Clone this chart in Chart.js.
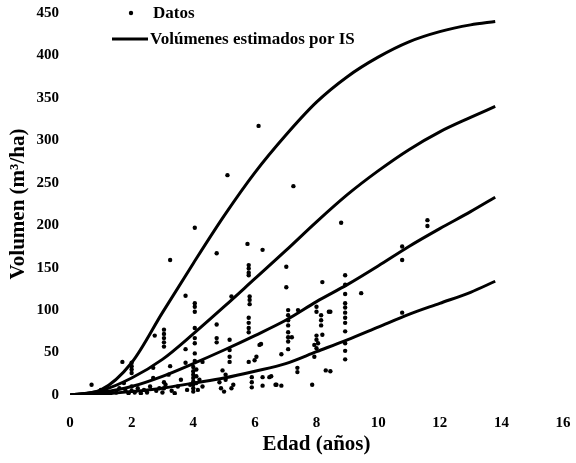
<!DOCTYPE html>
<html>
<head>
<meta charset="utf-8">
<script src="https://cdn.jsdelivr.net/npm/chart.js@4/dist/chart.umd.min.js"></script>
<style>
  html, body { margin: 0; padding: 0; background: #fff; }
  #wrap { width: 576px; height: 463px; }
</style>
</head>
<body>
<div id="wrap"><canvas id="volChart" width="576" height="463"></canvas></div>
<script>
// Observed stand volumes (edad in years, volumen in m3/ha)
const datosEdad = [
  0.7, 0.9, 1.0, 1.1, 1.2, 1.3, 1.5, 1.6, 1.7, 1.75, 1.8, 1.9,
  2.0, 2.0, 2.0, 2.0, 2.0, 2.0, 2.1, 2.2, 2.3, 2.4, 2.5, 2.6, 2.7, 2.7, 2.75, 2.8, 2.9,
  3.0, 3.05, 3.05, 3.05, 3.05, 3.05, 3.05, 3.05, 3.1, 3.2, 3.25, 3.25, 3.3, 3.4, 3.5, 3.6,
  3.75, 3.75, 3.75, 3.8, 3.9,
  4.05, 4.05, 4.05, 4.05, 4.05, 4.05, 4.05, 4.05, 4.05, 4.0, 4.0, 4.0, 4.0, 4.0, 4.0, 4.0, 4.0,
  4.1, 4.1, 4.1, 4.15, 4.2, 4.3, 4.3,
  4.76, 4.76, 4.76, 4.76, 4.85, 4.9, 4.95, 5.0, 5.05, 5.05, 5.11, 5.18, 5.18, 5.18, 5.18,
  5.24, 5.24, 5.3,
  5.76, 5.8, 5.8, 5.8, 5.8, 5.83, 5.83, 5.83, 5.8, 5.8, 5.8, 5.8, 5.8, 5.9, 5.9, 5.9, 5.99,
  6.05, 6.12, 6.15, 6.2, 6.25, 6.25, 6.25, 6.47, 6.53, 6.67, 6.7, 6.86, 6.86,
  7.02, 7.02, 7.08, 7.08, 7.08, 7.08, 7.08, 7.08, 7.08, 7.08, 7.2, 7.25, 7.38, 7.38, 7.4,
  7.86, 7.93, 7.93,
  8.0, 8.0, 8.0, 8.0, 8.0, 8.05, 8.15, 8.15, 8.15, 8.19, 8.19, 8.3, 8.4, 8.45, 8.45,
  8.8, 8.93, 8.93, 8.93, 8.93, 8.93, 8.93, 8.93, 8.93, 8.93, 8.93, 8.93, 8.93, 9.45,
  10.78, 10.78, 10.78, 11.6, 11.6
];
const datosVolumen = [
  12, 3, 6, 2, 4, 1, 3, 8, 39, 14, 5, 2,
  38, 34, 30, 26, 10, 5, 3, 8, 2, 6, 3, 10, 32, 20, 70, 5, 8,
  3, 77, 72, 67, 62, 57, 15, 8, 12, 24, 34, 159, 5, 2, 10, 18,
  117, 54, 38, 6, 12,
  197, 108, 104, 98, 79, 67, 61, 49, 40, 33, 28, 24, 20, 16, 12, 8, 4,
  30, 22, 14, 6, 18, 39, 10,
  167, 83, 67, 62, 15, 8, 29, 4, 24, 18, 259, 65, 53, 45, 39,
  116, 8, 12,
  178, 153, 149, 144, 141, 116, 112, 107, 91, 85, 79, 74, 39, 21, 15, 9, 41,
  45, 317, 59, 60, 171, 21, 11, 21, 22, 12, 12, 48, 11,
  151, 127, 100, 94, 88, 82, 74, 68, 63, 54, 68, 246, 32, 27, 100,
  12, 59, 45,
  104, 98, 70, 65, 55, 61, 94, 88, 82, 133, 71, 29, 98, 98, 28,
  203, 141, 130, 119, 108, 103, 97, 91, 85, 75, 61, 52, 42, 120,
  175, 159, 97, 206, 199
];

// Volumes estimated by the site index (IS) curves
const edadCurva = [0, 1, 2, 3, 4, 5, 6, 7, 8, 9, 10, 11, 12, 13, 13.8];
const curvaIS1 = [0, 6, 38, 97, 155, 211, 262, 306, 345, 375, 398, 416, 428, 436, 440];
const curvaIS2 = [0, 5, 20, 42, 72, 104, 137, 170, 204, 236, 264, 289, 310, 327, 340];
const curvaIS3 = [0, 3, 10, 22, 37, 53, 70, 88, 110, 130, 152, 175, 196, 216, 233];
const curvaIS4 = [0, 1, 4, 8, 14, 20, 28, 37, 51, 65, 80, 95, 108, 121, 134];

const labelDatos = "Datos";
const labelCurvas = "Volúmenes estimados por IS";

const serif = "'Liberation Serif', 'Times New Roman', serif";

const toPoints = (xs, ys) => xs.map((x, i) => ({ x: x, y: ys[i] }));

function curveDataset(values, label) {
  return {
    type: "line",
    label: label,
    data: toPoints(edadCurva, values),
    borderColor: "#000",
    borderWidth: 3,
    pointRadius: 0,
    fill: false,
    cubicInterpolationMode: "monotone",
  };
}

// Legend sits inside the plot area, top-left
const legendInside = {
  id: "legendInside",
  afterDraw(chart) {
    const ctx = chart.ctx;
    const left = chart.chartArea.left;
    const top = chart.chartArea.top;
    ctx.save();
    ctx.fillStyle = "#000";
    ctx.strokeStyle = "#000";
    ctx.font = "bold 17px " + serif;
    ctx.textBaseline = "middle";

    ctx.beginPath();
    ctx.arc(left + 61, top, 2.2, 0, Math.PI * 2);
    ctx.fill();
    ctx.fillText(labelDatos, left + 83, top + 1);

    ctx.lineWidth = 3;
    ctx.beginPath();
    ctx.moveTo(left + 42, top + 26);
    ctx.lineTo(left + 78, top + 26);
    ctx.stroke();
    ctx.fillText(labelCurvas, left + 80, top + 27);
    ctx.restore();
  },
};

const ctx = document.getElementById("volChart").getContext("2d");
const volChart = new Chart(ctx, {
  type: "scatter",
  data: {
    datasets: [
      {
        label: labelDatos,
        data: toPoints(datosEdad, datosVolumen),
        backgroundColor: "#000",
        borderColor: "#000",
        pointRadius: 2.2,
        pointBorderWidth: 0,
      },
      curveDataset(curvaIS1, labelCurvas),
      curveDataset(curvaIS2, labelCurvas),
      curveDataset(curvaIS3, labelCurvas),
      curveDataset(curvaIS4, labelCurvas),
    ],
  },
  options: {
    responsive: false,
    animation: false,
    layout: { padding: { top: 13, right: 13, left: 0, bottom: 0 } },
    plugins: {
      legend: { display: false },
      tooltip: { enabled: false },
    },
    scales: {
      x: {
        type: "linear",
        min: 0,
        max: 16,
        grid: { display: false },
        border: { display: false },
        ticks: {
          stepSize: 2,
          color: "#000",
          padding: 11,
          font: { family: serif, size: 15, weight: "bold" },
        },
        title: {
          display: true,
          text: "Edad (años)",
          color: "#000",
          padding: { top: 0, bottom: 6 },
          font: { family: serif, size: 21, weight: "bold" },
        },
        afterFit: (scale) => {
          scale.height = 68;
          // let the last tick label hang over the right margin
          scale.paddingRight = 0;
        },
      },
      y: {
        min: 0,
        max: 450,
        grid: { display: false },
        border: { display: false },
        ticks: {
          stepSize: 50,
          color: "#000",
          padding: 3,
          font: { family: serif, size: 15, weight: "bold" },
        },
        title: {
          display: true,
          text: "Volumen (m³/ha)",
          color: "#000",
          padding: { top: 6, bottom: 0 },
          font: { family: serif, size: 21, weight: "bold" },
        },
        afterFit: (scale) => { scale.width = 70; },
      },
    },
  },
  plugins: [legendInside],
});
</script>
</body>
</html>
